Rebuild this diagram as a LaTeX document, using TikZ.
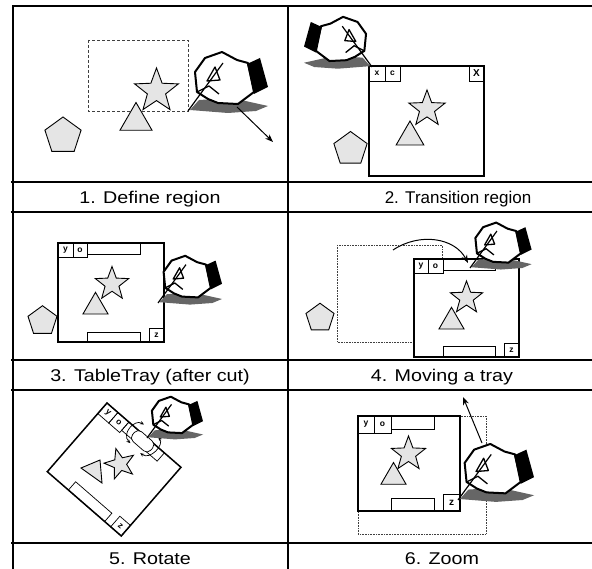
\documentclass[tikz,border=0pt]{standalone}
\usepackage{fontspec}
\setmainfont{Liberation Sans}
\newfontfamily\capfont[FakeStretch=1.16]{Liberation Sans}
\usetikzlibrary{shapes.geometric,arrows.meta}

\tikzset{
  rule/.style={line width=2pt},
  caption/.style={font=\capfont\fontsize{17}{20}\selectfont, anchor=base, inner sep=0pt},
  piece/.style={draw, fill=gray!20, line width=0.9pt, inner sep=0pt},
  starpiece/.style={piece, star, star points=5, star point ratio=2.4},
  tripiece/.style={piece, regular polygon, regular polygon sides=3},
  pentpiece/.style={piece, regular polygon, regular polygon sides=5},
  tray/.style={draw, fill=white, line width=1.5pt},
  btn/.style={draw, line width=0.7pt, inner sep=0pt, minimum width=15pt, minimum height=14pt,
    font=\fontsize{8.5}{8.5}\selectfont\bfseries},
  bar/.style={draw, line width=0.7pt},
  region/.style={draw=black!75, line width=0.7pt, dash pattern=on 3pt off 2pt},
  ghost/.style={draw=black!75, line width=0.6pt, densely dotted},
  move/.style={-{Stealth[length=8pt,width=6pt]}, line width=1pt},
  turn/.style={{Stealth[length=4pt,width=3.5pt]}-{Stealth[length=4pt,width=3.5pt]}, line width=0.7pt},
  % hand with pen, pen tip at the origin
  hand/.pic={
    \fill[black!60] (2,-1) -- (11,-11) -- (44,-13) -- (80,-5) -- (68,0) -- (40,2) -- cycle;
    \draw[line width=2pt, fill=white, line join=round]
      (9,-19) -- (7,-39) -- (17,-53) -- (34,-59) -- (49,-51) -- (60,-48)
      -- (66,-19) -- (50,-7) -- (30,-8) -- (20,-12) -- cycle;
    \fill (59,-47) -- (72,-53) -- (80,-24) -- (66,-17) -- cycle;
    \draw[line width=1.3pt, line join=round] (9,-19) -- (21,-25) -- (31,-17);
    \draw[line width=1.2pt] (0,0) -- (35,-48);
    \draw[line width=1.3pt, line join=round] (19,-30) -- (27,-44) -- (32,-31) -- cycle;
  }
}

\begin{document}
\begin{tikzpicture}[x=1pt, y=-1pt]
\useasboundingbox (0,0) rectangle (592,569);

% table rules
\draw[rule] (13,569) -- (13,6) -- (592,6);
\draw[rule] (288,6) -- (288,569);
\foreach \y in {182,212,360,390,543}
  \draw[rule] (11,\y) -- (592,\y);

% 1. define region
\draw[region] (88,40) rectangle (188,111);
\node[starpiece, minimum size=46pt] (star1) at (156.5,91) {};
\node[tripiece, minimum size=37pt] (tri1) at (136,121) {};
\node[pentpiece, minimum size=38pt] (pent1) at (63,136) {};
\pic at (188,111) {hand};
\coordinate (from1) at (237,107);
\coordinate (to1) at (273,142);
\draw[move] (from1) -- (to1);
\node[caption] (cap1) at (150,203.5) {1. Define region};

% 2. transition region
\node[pentpiece, minimum size=35pt] (pent2) at (350.5,149) {};
\draw[tray] (369,66) rectangle (484,176);
\node[btn, minimum width=16pt, minimum height=15pt] (x2) at (377,73.5) {x};
\node[btn, minimum height=15pt] (c2) at (392.5,73.5) {c};
\node[btn, minimum height=15pt, font=\fontsize{10}{10}\selectfont\bfseries] (close2) at (476.5,73.5) {X};
\node[starpiece, minimum size=38pt] (star2) at (427,109) {};
\node[tripiece, minimum size=32pt] (tri2) at (410,137) {};
\pic[xscale=-1, scale=0.85] at (372,67) {hand};
\node[caption, font=\fontsize{17}{20}\selectfont] (cap2) at (458,203.5) {2. Transition region};

% 3. tabletray after the cut
\node[pentpiece, minimum size=30.5pt] (pent3) at (42.5,321) {};
\draw[tray] (58,243) rectangle (164,342);
\node[btn] (y3) at (65.5,250) {y};
\node[btn, minimum width=14pt] (o3) at (80,250) {o};
\draw[bar] (87,243) rectangle (140,254);
\draw[bar] (87,332) rectangle (140,342);
\node[btn] (z3) at (156.5,335) {z};
\node[starpiece, minimum size=35pt] (star3) at (112,284) {};
\node[tripiece, minimum size=29pt] (tri3) at (95.5,306.8) {};
\pic[scale=0.8] at (158,303) {hand};
\node[caption] (cap3) at (150,381.5) {3. TableTray (after cut)};

% 4. moving a tray
\draw[ghost] (337,245) rectangle (442,342);
\node[pentpiece, minimum size=29.5pt] (pent4) at (320,318) {};
\draw[tray] (414,259) rectangle (519,357);
\node[btn, minimum width=14pt] (y4) at (421,266) {y};
\node[btn] (o4) at (435.5,266) {o};
\draw[bar] (443,259) rectangle (495,270);
\draw[bar] (443,346) rectangle (495,357);
\node[btn] (z4) at (511.5,350) {z};
\node[starpiece, minimum size=34pt] (star4) at (466.5,298) {};
\node[tripiece, minimum size=29pt] (tri4) at (451.5,321.8) {};
\coordinate (old4) at (393,250);
\coordinate (new4) at (468,263);
\draw[move] (old4) .. controls (420,232) and (455,238) .. (new4);
\pic[scale=0.77] at (470,268) {hand};
\node[caption] (cap4) at (442,381.5) {4. Moving a tray};

% 5. rotate
\begin{scope}[shift={(107,403)}, rotate=-41, transform shape]
  \draw[tray] (0,0) rectangle (98,91);
  \node[btn, minimum width=14.5pt] (y5) at (7.25,7) {y};
  \node[btn, minimum width=14.5pt] (o5) at (21.75,7) {o};
  \draw[bar] (29,0) rectangle (76,11);
  \draw[bar] (28,80) rectangle (76,91);
  \node[btn, minimum width=14pt] (z5) at (91,84) {z};
  \draw[bar, fill=white, rounded corners=5pt] (40,-1) rectangle (64,12);
  \coordinate (lt5) at (42,-8);
  \coordinate (lb5) at (44,15);
  \coordinate (rt5) at (61,-8);
  \coordinate (rb5) at (58,16);
  \draw[turn] (lt5) .. controls (31,-6) and (31,14) .. (lb5);
  \draw[turn] (rt5) .. controls (71,-6) and (70,15) .. (rb5);
\end{scope}
\node[starpiece, minimum size=32pt, rotate=15] (star5) at (120,464) {};
\draw[piece] (81,468) -- (100,460) -- (102,483) -- cycle;
\pic[scale=0.7] at (147,438) {hand};
\node[caption] (cap5) at (150,564) {5. Rotate};

% 6. zoom
\draw[ghost] (358,416) rectangle (486,534);
\draw[tray] (358,416) rectangle (460,511);
\node[btn, minimum width=16pt, minimum height=17pt] (y6) at (366,424.5) {y};
\node[btn, minimum width=17pt, minimum height=17pt] (o6) at (382.5,424.5) {o};
\draw[bar] (391,416) rectangle (434,429);
\draw[bar] (391,498) rectangle (434,511);
\node[btn, minimum size=17pt, font=\fontsize{10}{10}\selectfont\bfseries] (z6) at (451.5,502.5) {z};
\node[starpiece, minimum size=36pt] (star6) at (408.5,454) {};
\node[tripiece, minimum size=29pt] (tri6) at (393.5,477) {};
\coordinate (start6) at (482,443);
\coordinate (end6) at (463,397);
\draw[move] (start6) -- (end6);
\pic[scale=0.95] at (458,500) {hand};
\node[caption] (cap6) at (442,564) {6. Zoom};
\end{tikzpicture}
\end{document}
